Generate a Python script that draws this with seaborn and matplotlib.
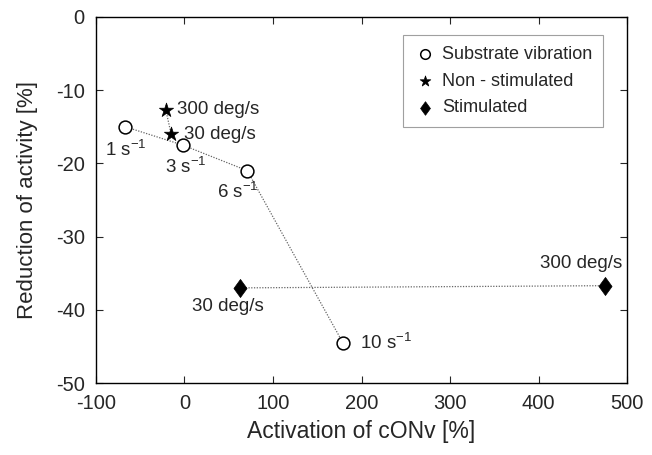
import matplotlib
matplotlib.use("Agg")
import matplotlib.pyplot as plt
import matplotlib.markers as mmarkers
import matplotlib.transforms as mtrans
import seaborn as sns
import pandas as pd

# Data
vib_labels = ["1 s$^{-1}$", "3 s$^{-1}$", "6 s$^{-1}$", "10 s$^{-1}$"]
vib_x = [-67, -2, 71, 179]
vib_y = [-15.0, -17.5, -21.0, -44.5]

non_labels = ["300 deg/s", "30 deg/s"]
non_x = [-21, -15]
non_y = [-12.7, -16.0]

stim_labels = ["30 deg/s", "300 deg/s"]
stim_x = [63, 475]
stim_y = [-37.0, -36.7]

xticks = [-100, 0, 100, 200, 300, 400, 500]
yticks = [-50, -40, -30, -20, -10, 0]

sns.set_theme(style="white")
plt.rcParams["font.family"] = ["Liberation Sans", "DejaVu Sans"]
plt.rcParams["mathtext.fontset"] = "custom"
plt.rcParams["mathtext.rm"] = "Liberation Sans"
plt.rcParams["mathtext.it"] = "Liberation Sans"
plt.rcParams["mathtext.default"] = "regular"
plt.rcParams["axes.unicode_minus"] = False

fig = plt.figure(figsize=(6.52, 4.55), dpi=100)
ax = fig.add_axes([0.147, 0.158, 0.815, 0.805])

vib = pd.DataFrame({"x": vib_x, "y": vib_y})
non = pd.DataFrame({"x": non_x, "y": non_y})
stim = pd.DataFrame({"x": stim_x, "y": stim_y})

line_kw = dict(color="#666666", linestyle=(0, (1, 1.2)), linewidth=0.9, sort=False,
               estimator=None, legend=False)
sns.lineplot(data=vib, x="x", y="y", ax=ax, **line_kw)
sns.lineplot(data=non, x="x", y="y", ax=ax, **line_kw)
sns.lineplot(data=stim, x="x", y="y", ax=ax, **line_kw)

sns.scatterplot(data=vib, x="x", y="y", ax=ax, marker="o", s=85, facecolor="white",
                edgecolor="black", linewidth=1.1, label="Substrate vibration", zorder=3)
sns.scatterplot(data=non, x="x", y="y", ax=ax, marker="*", s=115, color="black",
                edgecolor="black", linewidth=0.5, label="Non - stimulated", zorder=3)
sns.scatterplot(data=stim, x="x", y="y", ax=ax, marker="D", s=70, color="black",
                edgecolor="black", linewidth=0.5, label="Stimulated", zorder=3)

# diamond slightly taller than wide
m = mmarkers.MarkerStyle("D")
p = m.get_path().transformed(m.get_transform()).transformed(mtrans.Affine2D().scale(0.8, 1.1))
ax.collections[-1].set_paths([p])

fs = 13.5
vib_off = [(0.7, -17), (2, -16), (-7, -15), (12, 0)]
vib_ha = ["center", "center", "center", "left"]
for lab, x, y, off, ha in zip(vib_labels, vib_x, vib_y, vib_off, vib_ha):
    ax.annotate(lab, (x, y), xytext=off, textcoords="offset points", ha=ha, va="center", fontsize=fs)

non_off = [(8, 0), (9.5, 0)]
for lab, x, y, off in zip(non_labels, non_x, non_y, non_off):
    ax.annotate(lab, (x, y), xytext=off, textcoords="offset points", ha="left", va="center", fontsize=fs)

stim_off = [(-8.6, -13.7), (-17, 16)]
for lab, x, y, off in zip(stim_labels, stim_x, stim_y, stim_off):
    ax.annotate(lab, (x, y), xytext=off, textcoords="offset points", ha="center", va="center", fontsize=fs)

ax.set_xlim(-100, 500)
ax.set_ylim(-50, 0)
ax.set_xticks(xticks)
ax.set_yticks(yticks)
ax.set_xlabel("Activation of cONv [%]", fontsize=16.5, labelpad=5)
ax.set_ylabel("Reduction of activity [%]", fontsize=16, labelpad=13)
ax.tick_params(direction="in", length=5, width=0.8, labelsize=14.5, top=True, right=True,
               bottom=True, left=True)
ax.tick_params(axis="x", pad=8)
ax.tick_params(axis="y", pad=8)
for s in ax.spines.values():
    s.set_color("black")
    s.set_linewidth(1.0)

leg = ax.legend(loc="upper right", bbox_to_anchor=(0.955, 0.951), fontsize=13, frameon=True,
                fancybox=False, edgecolor="#888888", handletextpad=0.3, borderpad=0.6,
                labelspacing=0.55, handlelength=1.3, markerscale=0.75, borderaxespad=0)
leg.get_frame().set_linewidth(0.8)

fig.savefig("out.png", dpi=100)
